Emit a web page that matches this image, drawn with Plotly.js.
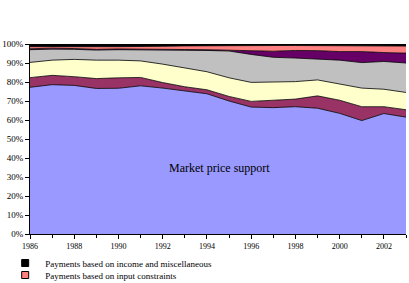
<!DOCTYPE html>
<html>
<head>
<meta charset="utf-8">
<script src="https://cdn.plot.ly/plotly-3.0.1.min.js"></script>
<style>
  html, body { margin: 0; padding: 0; background: #fff; }
  #chart { width: 409px; height: 283px; }
</style>
</head>
<body>
<div id="chart"></div>
<script>
// Composition of producer support, share of total (%), stacked from the bottom up
const years = [1986, 1987, 1988, 1989, 1990, 1991, 1992, 1993, 1994,
               1995, 1996, 1997, 1998, 1999, 2000, 2001, 2002, 2003];

const marketPriceSupport = [77.2, 78.6, 78.2, 76.6, 76.7, 78.0, 76.8, 75.2, 73.8,
                            70.0, 66.8, 66.5, 67.0, 66.2, 63.5, 59.7, 63.4, 61.5];
const paymentsOutput     = [5.1, 4.9, 4.6, 5.2, 5.5, 4.4, 2.9, 2.3, 2.1,
                            2.4, 3.0, 3.9, 4.0, 6.5, 6.9, 7.3, 3.6, 3.9];
const paymentsArea       = [8.0, 8.0, 9.1, 9.7, 9.3, 8.7, 9.7, 10.1, 9.5,
                            9.8, 10.0, 9.6, 9.2, 8.4, 8.4, 9.8, 9.2, 9.1];
const paymentsHistorical = [6.7, 5.8, 5.3, 5.3, 5.5, 5.7, 7.2, 9.1, 11.2,
                            14.1, 14.7, 13.0, 12.4, 11.1, 12.7, 13.4, 14.6, 15.5];
const paymentsInputUse   = [0.5, 0.5, 0.4, 0.4, 0.4, 0.4, 0.4, 0.4, 0.4,
                            0.5, 2.1, 3.2, 4.0, 4.3, 4.5, 5.8, 4.7, 5.2];
const paymentsInputConstraints = [1.1, 0.9, 1.1, 1.4, 1.2, 1.4, 1.8, 1.9, 2.1,
                                  2.5, 2.6, 3.0, 2.6, 2.7, 3.1, 3.0, 3.5, 3.7];
const paymentsIncomeMisc = [1.4, 1.3, 1.3, 1.4, 1.4, 1.4, 1.2, 1.0, 0.9,
                            0.7, 0.8, 0.8, 0.8, 0.8, 0.9, 1.0, 1.0, 1.1];

const seriesNames = [
  'Market price support',
  'Payments based on output',
  'Payments based on area planted/animal numbers',
  'Payments based on historical entitlements',
  'Payments based on input use',
  'Payments based on input constraints',
  'Payments based on income and miscellaneous'
];
const seriesValues = [marketPriceSupport, paymentsOutput, paymentsArea,
                      paymentsHistorical, paymentsInputUse,
                      paymentsInputConstraints, paymentsIncomeMisc];
const seriesColors = ['#9999FF', '#993366', '#FFFFCC', '#C0C0C0',
                      '#660066', '#FF8080', '#000000'];

// Only the last two series appear in the legend below the plot
const legendSeries = [6, 5];

const FONT = '"Liberation Serif", "Times New Roman", serif';

const traces = seriesValues.map((vals, i) => ({
  type: 'scatter',
  mode: 'lines',
  x: years,
  y: vals,
  name: seriesNames[i],
  stackgroup: 'share',
  line: { color: '#000', width: 0.8 },
  fillcolor: seriesColors[i],
  showlegend: false,
  hoverinfo: 'x+y+name'
}));

// Legend entries (square keys, one legend box per row)
legendSeries.forEach((idx, row) => {
  traces.push({
    type: 'scatter',
    mode: 'markers',
    x: [null],
    y: [null],
    name: seriesNames[idx],
    legend: row === 0 ? 'legend' : 'legend2',
    showlegend: true,
    marker: { symbol: 'square', size: 7, color: seriesColors[idx],
              line: { color: '#000', width: 1 } }
  });
});

// Plot area: 376 x 190 px; legend rows sit below it
const PLOT_H = 190;
const legendStyle = (rowCenterBelowAxis) => ({
  x: -0.066, xanchor: 'left',
  y: -rowCenterBelowAxis / PLOT_H, yanchor: 'middle',
  bgcolor: 'rgba(0,0,0,0)',
  borderwidth: 0,
  font: { family: FONT, size: 9, color: '#000' },
  itemclick: false, itemdoubleclick: false
});

const layout = {
  width: 409,
  height: 283,
  // fixed margins: the legend rows must not shrink the plot area
  margin: { l: 30, r: 3, t: 44, b: 49, autoexpand: false },
  paper_bgcolor: '#fff',
  plot_bgcolor: '#fff',
  font: { family: FONT, size: 9, color: '#000' },
  xaxis: {
    range: [1986, 2003],
    tickvals: [1986, 1988, 1990, 1992, 1994, 1996, 1998, 2000, 2002],
    ticks: 'outside', ticklen: 4, tickwidth: 1, tickcolor: '#000',
    minor: { dtick: 1, tick0: 1986, ticks: 'outside', ticklen: 3, tickcolor: '#000', showgrid: false },
    showline: true, linecolor: '#000', linewidth: 1,
    showgrid: false, zeroline: false,
    tickfont: { family: FONT, size: 8, color: '#000' }
  },
  yaxis: {
    range: [0, 100],
    dtick: 10,
    ticksuffix: '%',
    ticks: 'outside', ticklen: 4, tickwidth: 1, tickcolor: '#000',
    showline: true, linecolor: '#000', linewidth: 1,
    showgrid: false, zeroline: false,
    tickfont: { family: FONT, size: 9, color: '#000' }
  },
  showlegend: true,
  legend: legendStyle(29),
  legend2: legendStyle(41),
  annotations: [{
    x: 1994.55, y: 34.8, xref: 'x', yref: 'y',
    text: 'Market price support',
    showarrow: false,
    font: { family: FONT, size: 12, color: '#000' }
  }]
};

Plotly.newPlot('chart', traces, layout, { displayModeBar: false, staticPlot: true });
</script>
</body>
</html>
